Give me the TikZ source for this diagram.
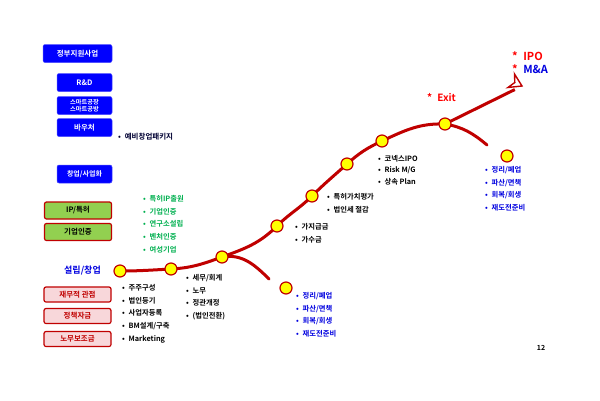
\documentclass[tikz,border=0pt]{standalone}
\usepackage{fontspec}
\usetikzlibrary{calc}
\setmainfont{Noto Sans CJK KR}[BoldFont={* Bold}]
\newfontfamily\kr{Noto Sans CJK KR Bold}
\definecolor{dred}{HTML}{C00000}
\definecolor{bbox}{HTML}{0000FF}
\definecolor{gtext}{HTML}{00B050}
\definecolor{gfill}{HTML}{92D050}
\definecolor{pfill}{HTML}{F8D7DA}
\definecolor{btext}{HTML}{0000E0}
\definecolor{cyel}{HTML}{FFFF00}
\tikzset{
  x=1pt,y=-1pt,
  bluebox/.style={draw=bbox!70!white,fill=bbox,rounded corners=2pt,text=white,font=\kr\fontsize{7.5}{8}\selectfont,align=center,inner sep=0pt,line width=0.5pt},
  greenbox/.style={draw=dred,fill=gfill,rounded corners=2pt,text=black,font=\kr\fontsize{7.5}{8}\selectfont,inner sep=0pt,line width=1.2pt},
  pinkbox/.style={draw=dred,fill=pfill,rounded corners=2pt,text=dred,font=\kr\fontsize{7.5}{8}\selectfont,inner sep=0pt,line width=1.2pt},
  ydot/.style={circle,draw=dred,fill=cyel,line width=1.2pt,minimum size=12pt,inner sep=0pt},
  blist/.style={anchor=north west,align=left,font=\kr\fontsize{7.3}{12.8}\selectfont,inner sep=0pt},
  redpath/.style={draw=dred,line width=3pt,line cap=round},
}
\begin{document}
\begin{tikzpicture}
\useasboundingbox (0,0) rectangle (600,400);
\fill[white] (0,0) rectangle (600,400);
% left boxes
\node[bluebox,minimum width=69pt,minimum height=18pt] (gov) at (77.5,53.5) {정부지원사업};
\node[bluebox,minimum width=55pt,minimum height=18pt] (rnd) at (84.5,82.5) {R\&D};
\node[bluebox,minimum width=55pt,minimum height=18pt,font=\kr\fontsize{6.2}{7}\selectfont] (smart) at (84.5,105.5) {스마트공장\\스마트공방};
\node[bluebox,minimum width=55pt,minimum height=18pt] (vouch) at (84.5,127.5) {바우처};
\node[anchor=west,font=\kr\fontsize{7.5}{8}\selectfont,text=black!80!blue,inner sep=0pt] (pre) at (118,137) {•\; 예비창업패키지};
\node[bluebox,minimum width=55pt,minimum height=18pt,font=\kr\fontsize{7}{8}\selectfont] (startup) at (84.5,174) {창업/사업화};
\node[greenbox,minimum width=67pt,minimum height=17pt] (ip) at (78,210.5) {IP/특허};
\node[greenbox,minimum width=67pt,minimum height=17pt] (cert) at (78,232) {기업인증};
\node[blist,text=gtext] (glist) at (143,195) {•\; 특허IP출원\\•\; 기업인증\\•\; 연구소설립\\•\; 벤처인증\\•\; 여성기업};
\node[anchor=west,text=btext,font=\kr\fontsize{9}{10}\selectfont,inner sep=0pt] (found) at (64,271) {설립/창업};
\node[pinkbox,minimum width=67pt,minimum height=15pt] (fin) at (77.5,294.5) {재무적 관점};
\node[pinkbox,minimum width=67pt,minimum height=15pt] (pol) at (77.5,316) {정책자금};
\node[pinkbox,minimum width=67pt,minimum height=15pt] (lab) at (77.5,339) {노무보조금};
% path points
\coordinate (c1) at (120,271);
\coordinate (c2) at (171,269);
\coordinate (c3) at (222,257);
\coordinate (c4) at (277,226);
\coordinate (c5) at (312,196);
\coordinate (c6) at (347,164);
\coordinate (c7) at (382,141);
\coordinate (c8) at (445,124);
\coordinate (b1) at (269,279);
\coordinate (b2) at (487,145);
\coordinate (tip) at (522,86);
% main curve
\draw[redpath] (c1) to[out=0,in=183] (c2) to[out=3,in=200] (c3)
  to[out=20,in=225] (c4) to[out=45,in=225] (c5) to[out=45,in=222] (c6)
  to[out=42,in=205] (c7) to[out=25,in=178] (c8);
\draw[redpath] (c3) to[out=10,in=135] (b1);
\draw[redpath] (c8) to[out=-10,in=140] (b2);
\draw[redpath,line cap=butt] (c8) -- ($(tip)!8pt!(c8)$);
% dots
\foreach \n in {c1,c2,c3,c4,c5,c6,c7,c8}
  \node[ydot] (\n d) at (\n) {};
\node[ydot] (d1) at (286,288) {};
\node[ydot] (d2) at (507,156) {};
% arrow head (open chevron)
\begin{scope}[shift={(tip)},rotate={-26}]
\draw[dred,fill=white,line width=1.4pt,line join=miter] (0,0) -- (-12,-7.5) -- (-8,0) -- (-12,7.5) -- cycle;
\end{scope}
% lists
\node[blist] (l1) at (122,284) {•\; 주주구성\\•\; 법인등기\\•\; 사업자등록\\•\; BM설계/구축\\•\; Marketing};
\node[blist] (l2) at (186,274) {•\; 세무/회계\\•\; 노무\\•\; 정관개정\\•\; (법인전환)};
\node[blist,text=btext] (l3) at (296,292) {•\; 정리/폐업\\•\; 파산/면책\\•\; 회복/회생\\•\; 재도전준비};
\node[blist] (l4) at (295,223) {•\; 가지급금\\•\; 가수금};
\node[blist] (l5) at (327,193) {•\; 특허가치평가\\•\; 법인세 절감};
\node[blist,font=\kr\fontsize{7.3}{11.5}\selectfont] (l6) at (378,155) {•\; 코넥스IPO\\•\; Risk M/G\\•\; 상속 Plan};
\node[blist,text=btext] (l7) at (485,166) {•\; 정리/폐업\\•\; 파산/면책\\•\; 회복/회생\\•\; 재도전준비};
\node[anchor=west,text=red,font=\kr\fontsize{10}{11}\selectfont,inner sep=0pt] (exit) at (427,98) {*\; Exit};
\node[anchor=west,text=red,font=\kr\fontsize{11}{12}\selectfont,inner sep=0pt] (ipo) at (512,56) {*\; IPO};
\node[anchor=west,font=\kr\fontsize{11}{12}\selectfont,inner sep=0pt] (ma) at (512,69) {\textcolor{red}{*}\; \textcolor{btext}{M\&A}};
\node[font=\kr\fontsize{7}{7}\selectfont,inner sep=0pt] (pg) at (541,348) {12};
\end{tikzpicture}
\end{document}
